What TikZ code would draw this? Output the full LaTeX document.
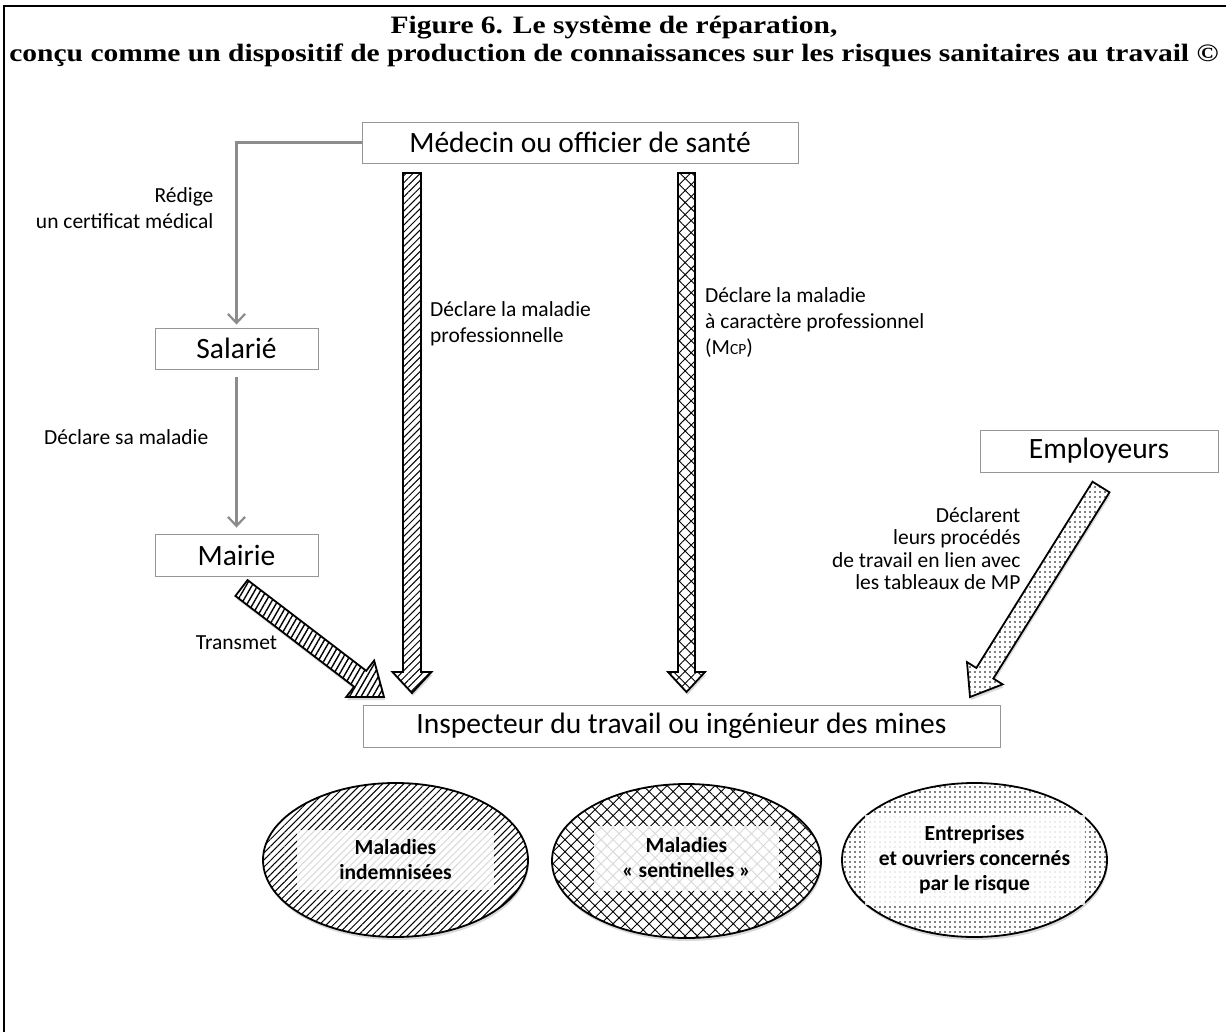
\documentclass[tikz,border=0pt]{standalone}
\usepackage{fontspec}
\setmainfont{Carlito}
\newfontfamily\titlefont{Liberation Serif}[FakeStretch=1.18]
\usetikzlibrary{arrows,arrows.meta,calc,positioning,patterns.meta,shapes.geometric,shadows}
\definecolor{linegray}{RGB}{140,140,140}
\definecolor{boxgray}{RGB}{150,150,150}
\newcommand{\blockarrow}[6]{%
	\coordinate (bahead) at ($(#3)!#6!(#2)$);
	\draw [#1] ($(#2)!#4!90:(#3)$) -- ($(bahead)!#4!90:(#3)$) -- ($(bahead)!#5!90:(#3)$) -- (#3)
		-- ($(bahead)!#5!-90:(#3)$) -- ($(bahead)!#4!-90:(#3)$) -- ($(#2)!#4!-90:(#3)$) -- cycle;}
\tikzset{
	box/.style={draw=boxgray, line width=0.9pt, fill=white, minimum height=41pt, inner sep=0pt, font=\fontsize{29.5}{34}\selectfont},
	lbl/.style={inner sep=0pt, font=\fontsize{21.5}{26}\selectfont},
	flow/.style={draw=linegray, line width=2.2pt, -{Straight Barb[length=9pt,width=17pt]}},
	softshadow/.style={drop shadow={opacity=0.3, shadow xshift=1pt, shadow yshift=-3pt}},
	bigarrow/.style={draw=black, line width=1.8pt, line join=miter, softshadow, preaction={fill=white}},
	oval/.style={ellipse, draw=black, line width=1.8pt, minimum width=265pt, minimum height=154pt, softshadow, preaction={fill=white}},
	ovaltext/.style={fill=white, fill opacity=0.85, text opacity=1, inner sep=0pt, align=center, font=\bfseries\fontsize{21.5}{25}\selectfont},
	indemn/.style={pattern={Lines[angle=45,distance=5pt,line width=1pt]}},
	sentin/.style={pattern={Hatch[angle=45,distance=8.5pt,line width=0.9pt]}},
	pointil/.style={pattern={Dots[distance=5pt,radius=0.9pt]}},
	transm/.style={pattern={Lines[angle=60,distance=5pt,line width=1.4pt]}},
}

\begin{document}
\begin{tikzpicture}[x=1pt, y=-1pt]
	\useasboundingbox (0,0) rectangle (1226,1032);
	\draw [line width=2.5pt] (4,1040) -- (4,6) -- (1240,6);
	\node (title) at (614,41.5) [align=center, font=\titlefont\bfseries\fontsize{25}{28}\selectfont]
		{Figure 6. Le système de réparation,\\conçu comme un dispositif de production de connaissances sur les risques sanitaires au travail ©};
	%
	\node (medecin) at (580,142.5) [box, minimum width=436pt] {Médecin ou officier de santé};
	\node (salarie) at (236.5,348.5) [box, minimum width=163pt] {Salarié};
	\node (mairie) at (236.5,555) [box, minimum width=163pt, minimum height=42pt] {Mairie};
	\node (employeurs) at (1099,451) [box, minimum width=238pt, minimum height=42pt] {Employeurs};
	\node (inspecteur) at (681.5,726) [box, minimum width=637pt, minimum height=42pt] {Inspecteur du travail ou ingénieur des mines};
	%
	\coordinate (mpA) at (412,173);
	\coordinate (mpB) at (412,693);
	\coordinate (mcpA) at (686.5,173);
	\coordinate (mcpB) at (686.5,692);
	\coordinate (trA) at (241.5,588);
	\coordinate (trB) at (384,697);
	\coordinate (empA) at (1101,487);
	\coordinate (empB) at (970,697);
	%
	\draw [flow, shorten >=3pt] (medecin.west) -| node[pos=.677, left=22pt, lbl, align=right] (lblcert) {Rédige\\un certificat médical} (salarie.north);
	\draw [flow, shorten <=8pt, shorten >=6pt] (salarie.south) to node[pos=.412, left=27pt, lbl] (lblsal) {Déclare sa maladie} (mairie.north);
	%
	\blockarrow{bigarrow, transm}{trA}{trB}{10pt}{23pt}{30pt}
	\blockarrow{bigarrow, indemn}{mpA}{mpB}{9pt}{19.5pt}{21pt}
	\blockarrow{bigarrow, sentin}{mcpA}{mcpB}{8.5pt}{18.5pt}{20pt}
	\blockarrow{bigarrow, pointil}{empA}{empB}{10pt}{21pt}{28pt}
	\node (lbltr) [lbl, below=59pt of mairie] {Transmet};
	\path (mpA) to node[pos=.289, right=18pt, lbl, align=left] (lblmp) {Déclare la maladie\\professionnelle} (mpB);
	\path (mcpA) to node[pos=.289, right=18.5pt, lbl, align=left] (lblmcp) {Déclare la maladie\\à caractère professionnel\\(M{\fontsize{15.5}{15.5}\selectfont CP})} (mcpB);
	\path (empA) to node[pos=.293, left=42pt, inner sep=0pt, align=right, font=\fontsize{21.5}{22.5}\selectfont] (lblemp) {Déclarent\\leurs procédés\\de travail en lien avec\\les tableaux de MP} (empB);
	%
	\node (ovindemn) at (395.5,860) [oval, indemn] {};
	\node (ovsentin) at (686.5,861) [oval, sentin, minimum width=269pt] {};
	\node (oventrep) at (974.5,860) [oval, pointil] {};
	\node (txindemn) at (ovindemn) [ovaltext, minimum width=197pt, minimum height=60pt] {Maladies\\indemnisées};
	\node (txsentin) at ([yshift=3pt]ovsentin.center) [ovaltext, minimum width=185pt, minimum height=65pt] {Maladies\\« sentinelles »};
	\node (txentrep) at (oventrep) [ovaltext, minimum width=220pt, minimum height=90pt] {Entreprises\\et ouvriers concernés\\par le risque};
\end{tikzpicture}
\end{document}
